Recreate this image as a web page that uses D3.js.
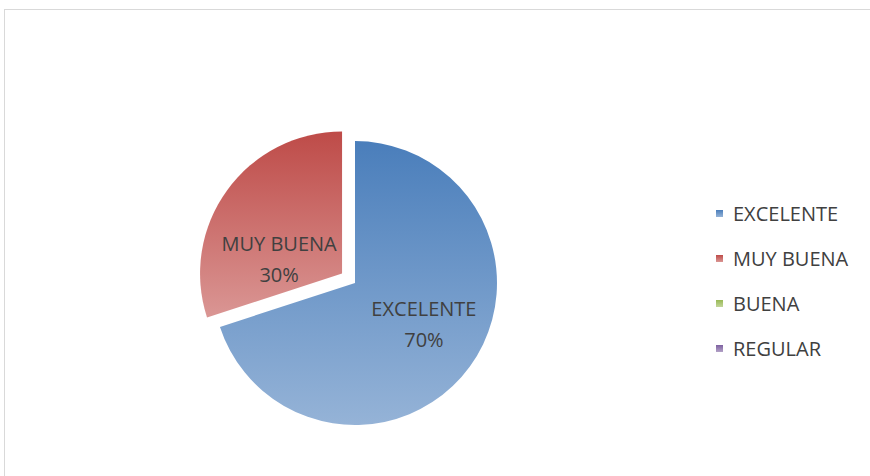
<!doctype html>
<html>
<head>
<meta charset="utf-8">
<script src="https://cdn.jsdelivr.net/npm/d3@7"></script>
<style>
  body { margin: 0; background: #fff; }
  svg text { font-family: "Open Sans", "Noto Sans", sans-serif; fill: #404040; }
</style>
</head>
<body>
<svg id="chart" width="870" height="476"></svg>
<script>
  // chart data
  var categories = ['EXCELENTE', 'MUY BUENA', 'BUENA', 'REGULAR'];
  var values = [70, 30, 0, 0];
  var percentLabels = ['70%', '30%', '0%', '0%'];
  var exploded = ['MUY BUENA'];

  // excel-ish palette: dark top, light bottom
  var colorTop = ['#4a7ebb', '#be4b48', '#98b954', '#7d60a0'];
  var colorBottom = ['#95b3d7', '#da9694', '#c3d69b', '#b3a2c7'];

  var width = 870, height = 476;
  var svg = d3.select('#chart');

  // outer frame of the chart area
  svg.append('rect')
    .attr('x', 4.5).attr('y', 9.5)
    .attr('width', 880).attr('height', 480)
    .attr('fill', '#fff')
    .attr('stroke', '#d9d9d9');

  var defs = svg.append('defs');
  categories.forEach(function (c, i) {
    var g = defs.append('linearGradient')
      .attr('id', 'grad' + i)
      .attr('x1', 0).attr('y1', 0).attr('x2', 0).attr('y2', 1);
    g.append('stop').attr('offset', '0%').attr('stop-color', colorTop[i]);
    g.append('stop').attr('offset', '100%').attr('stop-color', colorBottom[i]);
  });

  var cx = 355, cy = 283, radius = 142, explode = 16;

  var pie = d3.pie().sort(null).value(function (d) { return d; });
  var arcs = pie(values);

  var arc = d3.arc().innerRadius(0).outerRadius(radius);
  var labelArc = d3.arc().innerRadius(radius * 0.6).outerRadius(radius * 0.6);

  var main = svg.append('g').attr('transform', 'translate(' + cx + ',' + cy + ')');

  function offset(d) {
    if (exploded.indexOf(categories[d.index]) < 0) return [0, 0];
    var a = (d.startAngle + d.endAngle) / 2;
    return [Math.sin(a) * explode, -Math.cos(a) * explode];
  }

  main.selectAll('path')
    .data(arcs.filter(function (d) { return d.value > 0; }))
    .enter().append('path')
    .attr('transform', function (d) { var o = offset(d); return 'translate(' + o[0] + ',' + o[1] + ')'; })
    .attr('d', arc)
    .attr('fill', function (d) { return 'url(#grad' + d.index + ')'; });

  // labels: excel pushes the small slice label toward the middle
  var labelNudge = { 'EXCELENTE': [0, -10], 'MUY BUENA': [6, 34] };

  var labels = main.selectAll('g.label')
    .data(arcs.filter(function (d) { return d.value > 0; }))
    .enter().append('g')
    .attr('class', 'label')
    .attr('transform', function (d) {
      var c = labelArc.centroid(d), o = offset(d), n = labelNudge[categories[d.index]] || [0, 0];
      return 'translate(' + (c[0] + o[0] + n[0]) + ',' + (c[1] + o[1] + n[1]) + ')';
    });

  labels.append('text')
    .attr('text-anchor', 'middle')
    .attr('y', -7)
    .style('font-size', '20px')
    .text(function (d) { return categories[d.index]; });
  labels.append('text')
    .attr('text-anchor', 'middle')
    .attr('y', 24)
    .style('font-size', '20px')
    .text(function (d) { return percentLabels[d.index]; });

  // legend
  var legendY = d3.scalePoint().domain(categories).range([214, 349]);
  var legend = svg.selectAll('g.legend')
    .data(categories)
    .enter().append('g')
    .attr('class', 'legend')
    .attr('transform', function (d) { return 'translate(716,' + legendY(d) + ')'; });

  legend.append('rect')
    .attr('x', 0).attr('y', -4)
    .attr('width', 7).attr('height', 7)
    .attr('fill', function (d, i) { return 'url(#grad' + i + ')'; });
  legend.append('text')
    .attr('x', 17).attr('y', 0)
    .attr('dy', '0.35em')
    .style('font-size', '20px')
    .text(function (d) { return d; });
</script>
</body>
</html>
